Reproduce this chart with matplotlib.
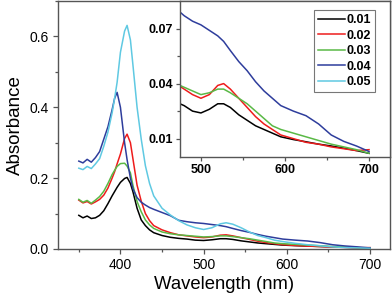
# UV-Vis absorbance spectra with zoomed inset
import matplotlib.pyplot as plt
from matplotlib.ticker import MultipleLocator

plt.rcParams['font.family'] = ['Liberation Sans', 'DejaVu Sans']

# DATA
# ------------------------------------------------------------------
wavelength = [350, 355, 360, 365, 370, 375, 380, 385, 390, 393, 396, 400,
              405, 408, 412, 415, 420, 425, 430, 435, 440, 450, 460, 470,
              480, 490, 500, 510, 520, 527, 535, 545, 555, 565, 575, 585,
              595, 610, 625, 640, 655, 670, 685, 700]

abs_001 = [0.095, 0.088, 0.093, 0.086, 0.088, 0.095, 0.108, 0.128, 0.150, 0.162,
           0.174, 0.188, 0.199, 0.202, 0.185, 0.162, 0.115, 0.082, 0.066, 0.054,
           0.046, 0.038, 0.033, 0.030, 0.028, 0.025, 0.024, 0.026, 0.029, 0.029,
           0.027, 0.023, 0.020, 0.017, 0.015, 0.013, 0.011, 0.0095, 0.0083, 0.007,
           0.006, 0.0048, 0.0035, 0.002]

abs_002 = [0.138, 0.130, 0.134, 0.127, 0.133, 0.140, 0.152, 0.172, 0.200, 0.218,
           0.240, 0.268, 0.312, 0.324, 0.300, 0.255, 0.180, 0.135, 0.100, 0.080,
           0.066, 0.054, 0.046, 0.040, 0.037, 0.034, 0.032, 0.034, 0.039, 0.040,
           0.037, 0.032, 0.027, 0.022, 0.018, 0.015, 0.012, 0.010, 0.008, 0.007,
           0.0055, 0.0045, 0.0035, 0.004]

abs_003 = [0.140, 0.132, 0.137, 0.129, 0.138, 0.148, 0.163, 0.185, 0.210, 0.222,
           0.233, 0.241, 0.242, 0.234, 0.215, 0.180, 0.134, 0.105, 0.082, 0.068,
           0.058, 0.048, 0.043, 0.040, 0.038, 0.036, 0.034, 0.035, 0.037, 0.037,
           0.035, 0.032, 0.029, 0.025, 0.021, 0.017, 0.015, 0.013, 0.011, 0.009,
           0.007, 0.0055, 0.004, 0.002]

abs_004 = [0.248, 0.243, 0.253, 0.245, 0.258, 0.275, 0.310, 0.345, 0.393, 0.425,
           0.442, 0.400, 0.300, 0.252, 0.200, 0.170, 0.145, 0.132, 0.124, 0.117,
           0.112, 0.103, 0.094, 0.081, 0.077, 0.074, 0.072, 0.069, 0.066, 0.063,
           0.058, 0.052, 0.047, 0.041, 0.036, 0.032, 0.028, 0.025, 0.0225, 0.018,
           0.012, 0.0085, 0.006, 0.003]

abs_005 = [0.228, 0.224, 0.233, 0.227, 0.240, 0.255, 0.290, 0.330, 0.384, 0.425,
           0.470, 0.555, 0.615, 0.631, 0.590, 0.520, 0.400, 0.310, 0.235, 0.185,
           0.150, 0.115, 0.096, 0.080, 0.068, 0.060, 0.055, 0.060, 0.071, 0.074,
           0.070, 0.060, 0.048, 0.038, 0.032, 0.025, 0.021, 0.016, 0.012, 0.009,
           0.006, 0.004, 0.003, 0.002]

labels = ['0.01', '0.02', '0.03', '0.04', '0.05']
colors = ['#000000', '#ee1c1c', '#5ab946', '#2e3d9c', '#5fc9e2']
series = [abs_001, abs_002, abs_003, abs_004, abs_005]

spine_color = '#555555'

# FIGURE
# ------------------------------------------------------------------
fig = plt.figure(figsize=(3.92, 2.96), dpi=100)

ax = fig.add_axes([0.148, 0.1588, 0.847, 0.838])
for ys, c in zip(series, colors):
    ax.plot(wavelength, ys, color=c, linewidth=1.1)

ax.set_xlim(325, 724)
ax.set_ylim(0, 0.7)
ax.xaxis.set_major_locator(MultipleLocator(100))
ax.xaxis.set_minor_locator(MultipleLocator(50))
ax.yaxis.set_major_locator(MultipleLocator(0.2))
ax.yaxis.set_minor_locator(MultipleLocator(0.1))
ax.tick_params(which='major', length=3.5, width=0.9, color=spine_color,
               labelsize=10, pad=3)
ax.tick_params(which='minor', length=2, width=0.9, color=spine_color)
for s in ax.spines.values():
    s.set_color(spine_color)
    s.set_linewidth(1.0)
ax.set_xlabel('Wavelength (nm)', fontsize=13.3, labelpad=3)
ax.set_ylabel('Absorbance', fontsize=13.5, labelpad=4)

# INSET
# ------------------------------------------------------------------
ins = fig.add_axes([0.459, 0.4696, 0.536, 0.527])
handles = []
for ys, c, lab in zip(series, colors, labels):
    if lab == '0.05':
        h, = ins.plot([], [], color=c, linewidth=1.1, label=lab)
    else:
        h, = ins.plot(wavelength, ys, color=c, linewidth=1.1, label=lab)
    handles.append(h)

ins.set_xlim(475, 725)
ins.set_ylim(0, 0.085)
ins.set_xticks([500, 600, 700])
ins.xaxis.set_minor_locator(MultipleLocator(50))
ins.set_yticks([0.01, 0.04, 0.07])
ins.set_yticks([0.025, 0.055], minor=True)
ins.tick_params(which='major', length=3, width=0.9, color=spine_color,
                labelsize=9, pad=2)
ins.tick_params(which='minor', length=2, width=0.9, color=spine_color)
for lab in ins.get_xticklabels() + ins.get_yticklabels():
    lab.set_fontweight('bold')
for s in ins.spines.values():
    s.set_color(spine_color)
    s.set_linewidth(1.0)

leg = ins.legend(handles=handles, loc='upper right',
                 bbox_to_anchor=(0.93, 0.94), fancybox=False,
                 prop={'weight': 'bold', 'size': 9},
                 handlelength=2.2, handletextpad=0.15, labelspacing=0.28,
                 borderpad=0.3, borderaxespad=0)
leg.get_frame().set_edgecolor(spine_color)
leg.get_frame().set_linewidth(0.8)

plt.savefig('out.png', dpi=100)
